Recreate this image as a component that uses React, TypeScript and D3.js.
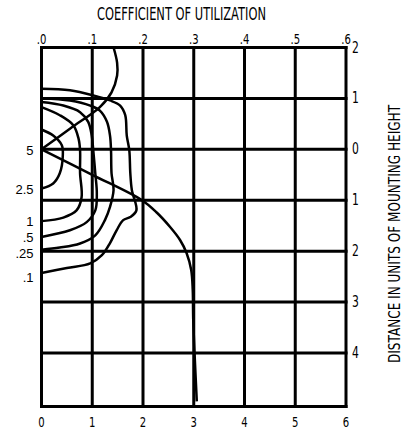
import React from 'react';
import { scaleLinear, line, curveCatmullRom } from 'd3';

// coefficient of utilization ticks (top) and distance ticks (bottom), in mounting heights
const cuTicks = ['.0', '.1', '.2', '.3', '.4', '.5', '.6'];
const distTicks = ['0', '1', '2', '3', '4', '5', '6'];
// right side: house side above 0, street side below
const depthValues = [-2, -1, 0, 1, 2, 3, 4];
const depthLabels = ['2', '1', '0', '1', '2', '3', '4'];
const gridBottom = 5.05;

// isofootcandle contours [distance, depth]
const iso25 = [[0, -0.39], [0.23, -0.27], [0.4, -0.08], [0.42, 0.12], [0.36, 0.47], [0.23, 0.67], [0, 0.77]];
const iso1 = [[0, -0.83], [0.36, -0.67], [0.63, -0.47], [0.73, -0.21], [0.76, 0.02], [0.76, 0.47], [0.79, 0.94], [0.69, 1.2], [0.43, 1.34], [0, 1.41]];
const iso05 = [[0, -0.93], [0.43, -0.86], [0.76, -0.73], [0.92, -0.54], [0.99, -0.27], [1.02, 0.02], [1.06, 0.47], [1.09, 0.86], [1.06, 1.2], [0.89, 1.43], [0.56, 1.59], [0, 1.72]];
const iso025 = [[0, -1.0], [0.56, -0.96], [0.96, -0.86], [1.15, -0.76], [1.29, -0.54], [1.35, -0.27], [1.37, 0.02], [1.38, 0.47], [1.42, 0.8], [1.35, 1.13], [1.25, 1.39], [1.06, 1.69], [0.76, 1.85], [0.36, 1.93], [0, 1.97]];
const iso01 = [[0, -1.19], [0.56, -1.16], [1.02, -1.06], [1.35, -0.96], [1.55, -0.86], [1.65, -0.67], [1.68, -0.27], [1.73, 0.02], [1.75, 0.47], [1.78, 0.8], [1.87, 1.2], [1.75, 1.33], [1.61, 1.39], [1.48, 1.59], [1.35, 1.84], [1.19, 2.08], [0.96, 2.24], [0.5, 2.33], [0, 2.43]];

// utilization curves [cu x10, depth]
const cuHouse = [[0, 0], [0.58, -0.42], [1.15, -0.83], [1.38, -1.12], [1.49, -1.45], [1.49, -1.7], [1.42, -2.0]];
const cuStreet = [[0, 0], [1.0, 0.5], [1.98, 1.0], [2.27, 1.24], [2.53, 1.52], [2.73, 1.78], [2.86, 2.04], [2.95, 2.37], [2.98, 2.76], [2.99, 3.35], [3.06, 4.95]];

const isoLabels = ['5', '2.5', '1', '.5', '.25', '.1'];
const isoLabelDepth = [0.02, 0.78, 1.41, 1.73, 2.04, 2.51];

const narrow = "'DejaVu Sans', sans-serif";

// condensed look: squeeze the glyphs horizontally
const squeeze = (px: number, py: number) => `translate(${px},${py}) scale(0.72,1)`;

const App = () => {
    const width = 411;
    const height = 431;

    const x = scaleLinear().domain([0, 6]).range([41.5, 346]);
    const y = scaleLinear().domain([-2, 4]).range([47.5, 353]);

    const path = line<number[]>()
        .x(d => x(d[0]))
        .y(d => y(d[1]))
        .curve(curveCatmullRom.alpha(0.5));

    const curves = [iso25, iso1, iso05, iso025, iso01, cuHouse, cuStreet];

    return (
        <svg width={width} height={height} style={{ position: 'absolute', left: 0, top: 0, background: '#fff' }}>
            <text x={181.5} y={20} fontFamily={narrow} fontSize={17} textLength={169}
                lengthAdjust="spacingAndGlyphs" textAnchor="middle">COEFFICIENT OF UTILIZATION</text>

            <g stroke="#000" strokeWidth={3} strokeLinecap="square">
                {distTicks.map((_, i) => (
                    <line key={'v' + i} x1={x(i)} x2={x(i)} y1={y(-2)} y2={y(gridBottom)} />
                ))}
                {depthValues.concat([gridBottom]).map(v => (
                    <line key={'h' + v} x1={x(0)} x2={x(6)} y1={y(v)} y2={y(v)} />
                ))}
            </g>

            <g fill="none" stroke="#000" strokeWidth={2.5} strokeLinejoin="round">
                {curves.map((c, i) => <path key={i} d={path(c) || ''} />)}
            </g>

            <g fontFamily={narrow} fontSize={14} textAnchor="middle">
                {cuTicks.map((t, i) => <text key={t} transform={squeeze(x(i), y(-2) - 4)}>{t}</text>)}
            </g>
            <g fontFamily={narrow} fontSize={14} textAnchor="middle">
                {distTicks.map((t, i) => <text key={t} transform={squeeze(x(i), 427)}>{t}</text>)}
            </g>
            <g fontFamily={narrow} fontSize={15}>
                {depthValues.map((v, i) => <text key={v} transform={squeeze(352, y(v) + 5)}>{depthLabels[i]}</text>)}
            </g>
            <g fontFamily="'Liberation Sans', Arial, sans-serif" fontSize={13} textAnchor="end">
                {isoLabels.map((t, i) => <text key={t} x={x(0) - 8} y={y(isoLabelDepth[i]) + 5}>{t}</text>)}
            </g>
            <text transform="translate(400,234) rotate(-90)" fontFamily={narrow} fontSize={15}
                textLength={258} lengthAdjust="spacingAndGlyphs" textAnchor="middle">
                DISTANCE IN UNITS OF MOUNTING HEIGHT
            </text>
        </svg>
    );
};

export default App;
